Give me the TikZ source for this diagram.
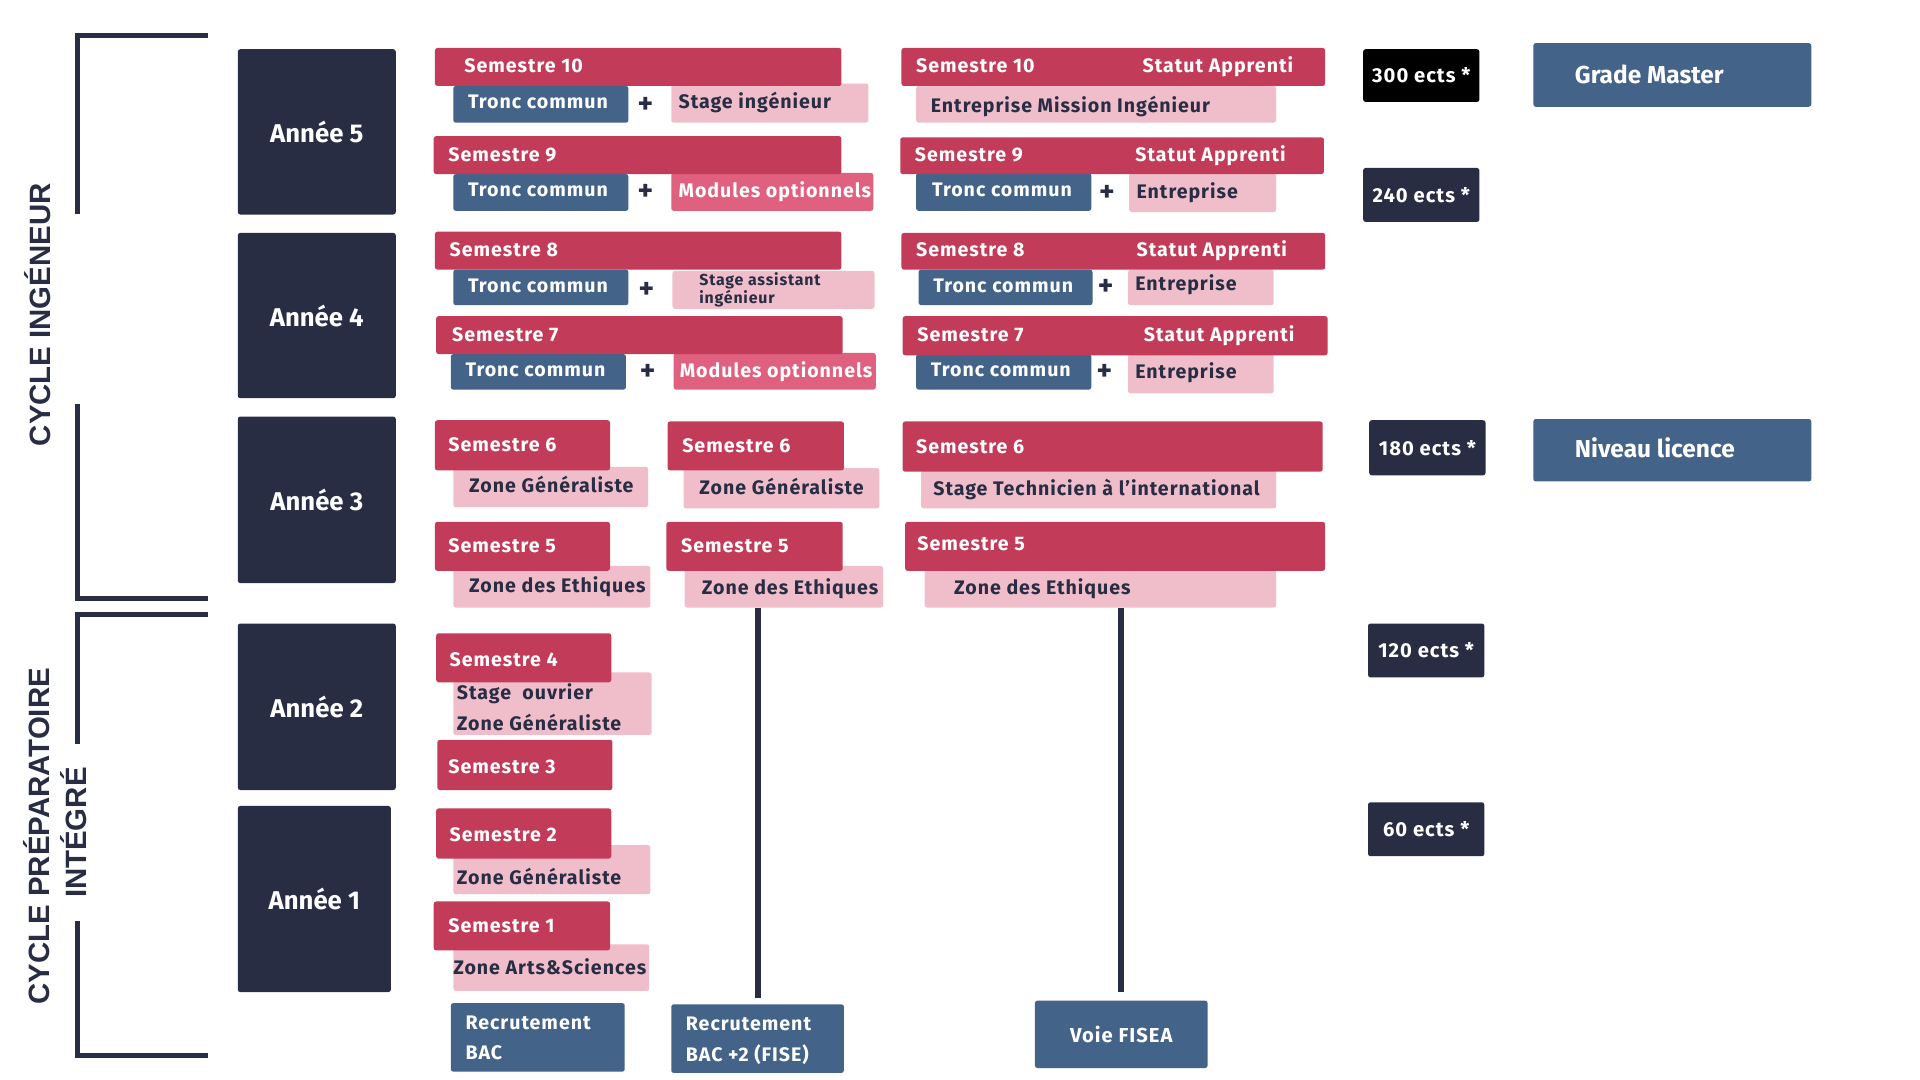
\documentclass[tikz,border=0pt]{standalone}
\usepackage{fontspec}
\setmainfont{Fira Sans}
\newfontfamily\lsf{Fira Sans}[LetterSpace=5]
\newfontfamily\cycfont{Liberation Sans}
\definecolor{navy}{HTML}{282D44}
\definecolor{semred}{HTML}{C23C59}
\definecolor{pinkl}{HTML}{F0BECB}
\definecolor{pinkm}{HTML}{E0607F}
\definecolor{blueb}{HTML}{436388}
\tikzset{
  box/.style={rectangle, rounded corners=2pt, inner sep=0pt, draw=none},
  sem/.style={fill=semred},
  tcb/.style={fill=blueb},
  pkb/.style={fill=pinkl},
  mpb/.style={fill=pinkm},
  nvb/.style={fill=navy},
  blk/.style={fill=black},
  wt/.style={text=white, font=\lsf\bfseries\fontsize{16}{19}\selectfont, anchor=west, inner sep=0pt, text height=11pt, text depth=0pt},
  dk/.style={text=navy, font=\lsf\bfseries\fontsize{16}{19}\selectfont, anchor=west, inner sep=0pt, text height=11pt, text depth=0pt},
  dks/.style={text=navy, font=\lsf\bfseries\fontsize{13}{15}\selectfont, anchor=west, inner sep=0pt, text height=9pt, text depth=0pt},
  plus/.style={text=navy, font=\bfseries\fontsize{24}{26}\selectfont, inner sep=0pt},
  yrt/.style={text=white, font=\bfseries\fontsize{21}{24}\selectfont},
  ectst/.style={text=white, font=\lsf\bfseries\fontsize{16.5}{19}\selectfont},
  bigt/.style={text=white, font=\bfseries\fontsize{20}{24}\selectfont, anchor=west, inner sep=0pt, text height=14pt, text depth=0pt},
  cyc/.style={text=navy, font=\cycfont\bfseries\fontsize{24}{28}\selectfont, rotate=90, inner sep=0pt},
  brk/.style={draw=navy, line width=4pt, line cap=butt, line join=miter},
  vline/.style={draw=navy, line width=5pt},
}
\newcommand\bx[6]{\pgfmathsetmacro\bw{#5-#3}\pgfmathsetmacro\bh{#6-#4}%
  \node[box,#2,anchor=north west,minimum width=\bw pt,minimum height=\bh pt] (#1) at (#3,#4) {};}
\newcommand\bxt[8]{\pgfmathsetmacro\bw{#5-#3}\pgfmathsetmacro\bh{#6-#4}%
  \node[box,#2,#8,anchor=north west,minimum width=\bw pt,minimum height=\bh pt] (#1) at (#3,#4) {#7};}
\newcommand\tx[5]{\node[#2] (#1) at (#3,#4) {#5};}
\begin{document}
\begin{tikzpicture}[x=1pt,y=-1pt]
\useasboundingbox[fill=white] (0,0) rectangle (1568,882);
% brackets
\draw[brk] (170,29) -- (63,29) -- (63,175);
\draw[brk] (63,330) -- (63,489) -- (170,489);
\draw[brk] (170,502) -- (63,502) -- (63,608);
\draw[brk] (63,752) -- (63,862) -- (170,862);
\node[cyc] (cycing) at (31,257) {CYCLE INGÉNEUR};
\node[cyc] (cycprep) at (30,683) {CYCLE PRÉPARATOIRE};
\node[cyc] (cycint) at (60,680) {INTÉGRÉ};
% years
\bxt{y5}{nvb}{194}{40}{323}{175}{Année 5}{yrt}
\bxt{y4}{nvb}{194}{190}{323}{325}{Année 4}{yrt}
\bxt{y3}{nvb}{194}{340}{323}{476}{Année 3}{yrt}
\bxt{y2}{nvb}{194}{509}{323}{645}{Année 2}{yrt}
\bxt{y1}{nvb}{194}{658}{319}{810}{Année 1}{yrt}
% lower-layer boxes
\bx{t10a}{tcb}{370}{70}{513}{100}
\bx{p10a}{pkb}{548}{68}{709}{100}
\bx{t9a}{tcb}{370}{142}{513}{172}
\bx{p9a}{mpb}{548}{141}{713}{172}
\bx{t8a}{tcb}{370}{220}{513}{249}
\bx{p8a}{pkb}{549}{221}{714}{252}
\bx{t7a}{tcb}{368}{289}{511}{318}
\bx{p7a}{mpb}{550}{288}{715}{318}
\bx{p10b}{pkb}{748}{70}{1042}{100}
\bx{t9b}{tcb}{748}{141}{891}{172}
\bx{p9b}{pkb}{922}{141}{1042}{173}
\bx{t8b}{tcb}{750}{220}{892}{249}
\bx{p8b}{pkb}{921}{220}{1040}{249}
\bx{t7b}{tcb}{748}{289}{891}{318}
\bx{p7b}{pkb}{921}{289}{1040}{321}
\bx{z6a}{pkb}{370}{381}{529}{414}
\bx{z5a}{pkb}{370}{462}{531}{496}
\bx{z6b}{pkb}{558}{382}{718}{415}
\bx{z5b}{pkb}{559}{462}{721}{496}
\bx{z6c}{pkb}{752}{384}{1042}{415}
\bx{z5c}{pkb}{755}{465}{1042}{496}
\bx{z4}{pkb}{370}{549}{532}{600}
\bx{z2}{pkb}{370}{690}{531}{730}
\bx{z1}{pkb}{370}{771}{530}{809}
% semester bars
\bx{s10a}{sem}{355}{39}{687}{70}
\bx{s9a}{sem}{354}{111}{687}{142}
\bx{s8a}{sem}{355}{189}{687}{220}
\bx{s7a}{sem}{356}{258}{688}{289}
\bx{s10b}{sem}{736}{39}{1082}{70}
\bx{s9b}{sem}{735}{112}{1081}{142}
\bx{s8b}{sem}{736}{190}{1082}{220}
\bx{s7b}{sem}{737}{258}{1084}{290}
\bx{s6a}{sem}{355}{343}{498}{384}
\bx{s5a}{sem}{355}{426}{498}{466}
\bx{s6b}{sem}{545}{344}{689}{384}
\bx{s5b}{sem}{544}{426}{688}{466}
\bx{s6c}{sem}{737}{344}{1080}{385}
\bx{s5c}{sem}{739}{426}{1082}{466}
\bx{s4}{sem}{356}{517}{499}{557}
\bx{s3}{sem}{357}{604}{500}{645}
\bx{s2}{sem}{356}{660}{499}{701}
\bx{s1}{sem}{354}{736}{498}{776}
% recruitment
\bx{rA}{tcb}{368}{819}{510}{875}
\bx{rB}{tcb}{548}{820}{689}{876}
\bxt{rC}{tcb}{845}{817}{986}{872}{Voie FISEA}{ectst}
% ects & grades
\bxt{e300}{blk}{1113}{40}{1208}{83}{300 ects *}{ectst}
\bxt{e240}{nvb}{1113}{137}{1208}{181}{240 ects *}{ectst}
\bxt{e180}{nvb}{1118}{343}{1213}{388}{180 ects *}{ectst}
\bxt{e120}{nvb}{1117}{509}{1212}{553}{120 ects *}{ectst}
\bxt{e60}{nvb}{1117}{655}{1212}{699}{60 ects *}{ectst}
\bx{gm}{tcb}{1252}{35}{1479}{87}
\bx{nl}{tcb}{1252}{342}{1479}{393}
\tx{gmt}{bigt}{1286}{61}{Grade Master}
\tx{nlt}{bigt}{1286}{367}{Niveau licence}
% connectors
\draw[vline] ([yshift=5pt]rB.north) -- (rB.north |- z5b.south);
\draw[vline] ([yshift=7pt]rC.north) -- (rC.north |- z5c.south);
% texts column 1
\tx{s10at}{wt}{379}{54}{Semestre 10}
\tx{t10at}{wt}{382}{83}{Tronc commun}
\tx{pl10a}{plus}{527}{86}{+}
\tx{p10at}{dk}{554}{83}{Stage ingénieur}
\tx{s9at}{wt}{366}{126}{Semestre 9}
\tx{t9at}{wt}{382}{155}{Tronc commun}
\tx{pl9a}{plus}{527}{157}{+}
\tx{p9at}{wt}{554}{156}{Modules optionnels}
\tx{s8at}{wt}{367}{204}{Semestre 8}
\tx{t8at}{wt}{382}{233}{Tronc commun}
\tx{pl8a}{plus}{528}{237}{+}
\tx{p8at}{dks}{571}{229}{Stage assistant}
\tx{p8at2}{dks}{571}{243}{ingénieur}
\tx{s7at}{wt}{369}{273}{Semestre 7}
\tx{t7at}{wt}{380}{302}{Tronc commun}
\tx{pl7a}{plus}{529}{304}{+}
\tx{p7at}{wt}{555}{303}{Modules optionnels}
% texts column 2
\tx{s10bt}{wt}{748}{54}{Semestre 10}
\tx{s10bs}{wt}{933}{54}{Statut Apprenti}
\tx{p10bt}{dk}{760}{86}{Entreprise Mission Ingénieur}
\tx{s9bt}{wt}{747}{126}{Semestre 9}
\tx{s9bs}{wt}{927}{126}{Statut Apprenti}
\tx{t9bt}{wt}{761}{155}{Tronc commun}
\tx{pl9b}{plus}{904}{158}{+}
\tx{p9bt}{dk}{928}{157}{Entreprise}
\tx{s8bt}{wt}{748}{204}{Semestre 8}
\tx{s8bs}{wt}{928}{204}{Statut Apprenti}
\tx{t8bt}{wt}{762}{233}{Tronc commun}
\tx{pl8b}{plus}{903}{235}{+}
\tx{p8bt}{dk}{927}{232}{Entreprise}
\tx{s7bt}{wt}{749}{273}{Semestre 7}
\tx{s7bs}{wt}{934}{273}{Statut Apprenti}
\tx{t7bt}{wt}{760}{302}{Tronc commun}
\tx{pl7b}{plus}{902}{304}{+}
\tx{p7bt}{dk}{927}{304}{Entreprise}
% row 3
\tx{s6at}{wt}{366}{363}{Semestre 6}
\tx{z6at}{dk}{383}{397}{Zone Généraliste}
\tx{s5at}{wt}{366}{446}{Semestre 5}
\tx{z5at}{dk}{383}{478}{Zone des Ethiques}
\tx{s6bt}{wt}{557}{364}{Semestre 6}
\tx{z6bt}{dk}{571}{398}{Zone Généraliste}
\tx{s5bt}{wt}{556}{446}{Semestre 5}
\tx{z5bt}{dk}{573}{480}{Zone des Ethiques}
\tx{s6ct}{wt}{748}{365}{Semestre 6}
\tx{z6ct}{dk}{762}{399}{Stage Technicien à l’international}
\tx{s5ct}{wt}{749}{444}{Semestre 5}
\tx{z5ct}{dk}{779}{480}{Zone des Ethiques}
% rows 2 and 1
\tx{s4t}{wt}{367}{539}{Semestre 4}
\tx{z4t}{dk}{373}{566}{Stage\ \ ouvrier}
\tx{z4t2}{dk}{373}{591}{Zone Généraliste}
\tx{s3t}{wt}{366}{626}{Semestre 3}
\tx{s2t}{wt}{367}{682}{Semestre 2}
\tx{z2t}{dk}{373}{717}{Zone Généraliste}
\tx{s1t}{wt}{366}{756}{Semestre 1}
\tx{z1t}{dk}{370}{790}{Zone Arts\&Sciences}
\tx{rAt}{wt}{380}{835}{Recrutement}
\tx{rAt2}{wt}{380}{860}{BAC}
\tx{rBt}{wt}{560}{836}{Recrutement}
\tx{rBt2}{wt}{560}{861}{BAC +2 (FISE)}
\end{tikzpicture}
\end{document}
